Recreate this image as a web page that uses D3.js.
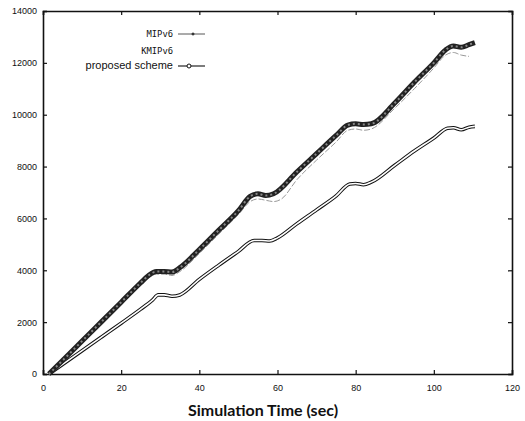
<!DOCTYPE html>
<html>
<head>
<meta charset="utf-8">
<script src="https://cdn.jsdelivr.net/npm/d3@7"></script>
<style>
  body { margin: 0; background: #fff; }
  svg { display: block; }
</style>
</head>
<body>
<svg id="chart"></svg>
<script>
// Series data
const mipTime = [1.5, 5, 10, 15, 20, 25, 27, 29, 31, 33, 35, 40, 45, 50, 53, 55, 57, 59, 65, 70, 75, 78, 80, 82, 84, 90, 95, 100, 103, 105, 107, 109, 110.5];
const mipVal = [0, 520, 1270, 2020, 2770, 3520, 3800, 3950, 3950, 3930, 4100, 4800, 5550, 6300, 6850, 6950, 6880, 6950, 7800, 8500, 9200, 9600, 9650, 9620, 9650, 10450, 11250, 12000, 12500, 12650, 12600, 12700, 12780];

const kmipTime = [1.5, 5, 10, 15, 20, 25, 27, 29, 31, 33, 35, 40, 45, 50, 53, 55, 57, 59, 61, 65, 70, 75, 78, 80, 82, 84, 90, 95, 100, 103, 105, 107, 109];
const kmipVal = [0, 480, 1200, 1950, 2680, 3420, 3700, 3850, 3850, 3800, 3950, 4650, 5400, 6150, 6650, 6750, 6700, 6650, 6750, 7500, 8250, 8950, 9400, 9450, 9400, 9450, 10250, 11000, 11800, 12300, 12400, 12300, 12250];

const propTime = [1.5, 5, 10, 15, 20, 25, 28, 29.5, 31, 33, 35, 40, 45, 50, 54, 56, 58, 60, 65, 70, 75, 78.5, 80, 82, 84, 90, 95, 100, 103.5, 105, 107, 109, 110.5];
const propVal = [0, 370, 900, 1430, 1960, 2500, 2850, 3050, 3050, 3000, 3050, 3650, 4200, 4730, 5150, 5150, 5130, 5250, 5800, 6330, 6870, 7330, 7350, 7300, 7400, 8050, 8600, 9100, 9480, 9500, 9420, 9520, 9550];

const seriesNames = ['MIPv6', 'KMIPv6', 'proposed scheme'];
const xTicks = [0, 20, 40, 60, 80, 100, 120];
const yTicks = [0, 2000, 4000, 6000, 8000, 10000, 12000, 14000];

const width = 525;
const height = 421;
const margin = { top: 11, right: 13, bottom: 47, left: 43 };

const svg = d3.select('#chart').attr('width', width).attr('height', height);

const x = d3.scaleLinear().domain([0, 120]).range([margin.left, width - margin.right]);
const y = d3.scaleLinear().domain([0, 14000]).range([height - margin.bottom, margin.top]);

const zip = (ts, vs) => ts.map((t, i) => [t, vs[i]]);
const line = d3.line().x((d) => x(d[0])).y((d) => y(d[1])).curve(d3.curveMonotoneX);

// Axes: inward ticks, mirrored on top and right
const tickLen = 4;
const axisFont = 'Liberation Sans, Arial, sans-serif';

const axisBottomG = svg.append('g')
  .attr('transform', `translate(0,${y(0)})`)
  .call(d3.axisBottom(x).tickValues(xTicks).tickSize(-tickLen).tickPadding(11).tickFormat(d3.format('d')));
const axisTopG = svg.append('g')
  .attr('transform', `translate(0,${y(14000)})`)
  .call(d3.axisTop(x).tickValues(xTicks).tickSize(-tickLen).tickFormat(''));
const axisLeftG = svg.append('g')
  .attr('transform', `translate(${x(0)},0)`)
  .call(d3.axisLeft(y).tickValues(yTicks).tickSize(-tickLen).tickPadding(6).tickFormat(d3.format('d')));
const axisRightG = svg.append('g')
  .attr('transform', `translate(${x(120)},0)`)
  .call(d3.axisRight(y).tickValues(yTicks).tickSize(-tickLen).tickFormat(''));

[axisBottomG, axisTopG, axisLeftG, axisRightG].forEach((g) => {
  g.select('.domain').attr('stroke', '#111').attr('stroke-width', 1.6);
  g.selectAll('.tick line').attr('stroke', '#111').attr('stroke-width', 1.2);
  g.selectAll('text').attr('font-family', axisFont).attr('font-size', 9).attr('fill', '#111');
});

// proposed scheme: hollow double line
svg.append('path')
  .attr('d', line(zip(propTime, propVal)))
  .attr('fill', 'none').attr('stroke', '#111').attr('stroke-width', 3.6);
svg.append('path')
  .attr('d', line(zip(propTime, propVal)))
  .attr('fill', 'none').attr('stroke', '#fff').attr('stroke-width', 1.6);

// KMIPv6: light grey thin line
svg.append('path')
  .attr('d', line(zip(kmipTime, kmipVal)))
  .attr('fill', 'none').attr('stroke', '#999').attr('stroke-width', 1)
  .attr('stroke-dasharray', '6,2');

// MIPv6: dense, dark, speckled band
svg.append('path')
  .attr('d', line(zip(mipTime, mipVal)))
  .attr('fill', 'none').attr('stroke', '#222').attr('stroke-width', 5);
svg.append('path')
  .attr('d', line(zip(mipTime, mipVal)))
  .attr('fill', 'none').attr('stroke', '#888').attr('stroke-width', 2)
  .attr('stroke-dasharray', '2,3');

// Legend
const legend = svg.append('g');
const legX = 173;
const legYs = [34, 51, 66];
seriesNames.forEach((name, i) => {
  legend.append('text')
    .attr('x', legX).attr('y', legYs[i] + 3)
    .attr('text-anchor', 'end')
    .attr('font-family', i < 2 ? 'DejaVu Sans Mono, monospace' : 'Liberation Sans, Arial, sans-serif')
    .attr('font-size', i < 2 ? 8.8 : 11)
    .attr('fill', '#111')
    .text(name);
});
legend.append('line')
  .attr('x1', 178).attr('x2', 205).attr('y1', legYs[0]).attr('y2', legYs[0])
  .attr('stroke', '#444').attr('stroke-width', 0.9);
legend.append('path')
  .attr('d', `M${193},${legYs[0] - 1.5}V${legYs[0] + 1.5}M${191.5},${legYs[0]}H${194.5}`)
  .attr('stroke', '#111').attr('stroke-width', 1);
legend.append('line')
  .attr('x1', 178).attr('x2', 205).attr('y1', legYs[2]).attr('y2', legYs[2])
  .attr('stroke', '#111').attr('stroke-width', 1.1);
legend.append('circle')
  .attr('cx', 189).attr('cy', legYs[2]).attr('r', 2)
  .attr('fill', '#fff').attr('stroke', '#111').attr('stroke-width', 1);

// X axis title
svg.append('text')
  .attr('x', 263).attr('y', 416)
  .attr('text-anchor', 'middle')
  .attr('font-family', 'Lato, sans-serif')
  .attr('font-weight', 'bold')
  .attr('font-size', 16)
  .attr('fill', '#111')
  .text('Simulation Time (sec)');
</script>
</body>
</html>
